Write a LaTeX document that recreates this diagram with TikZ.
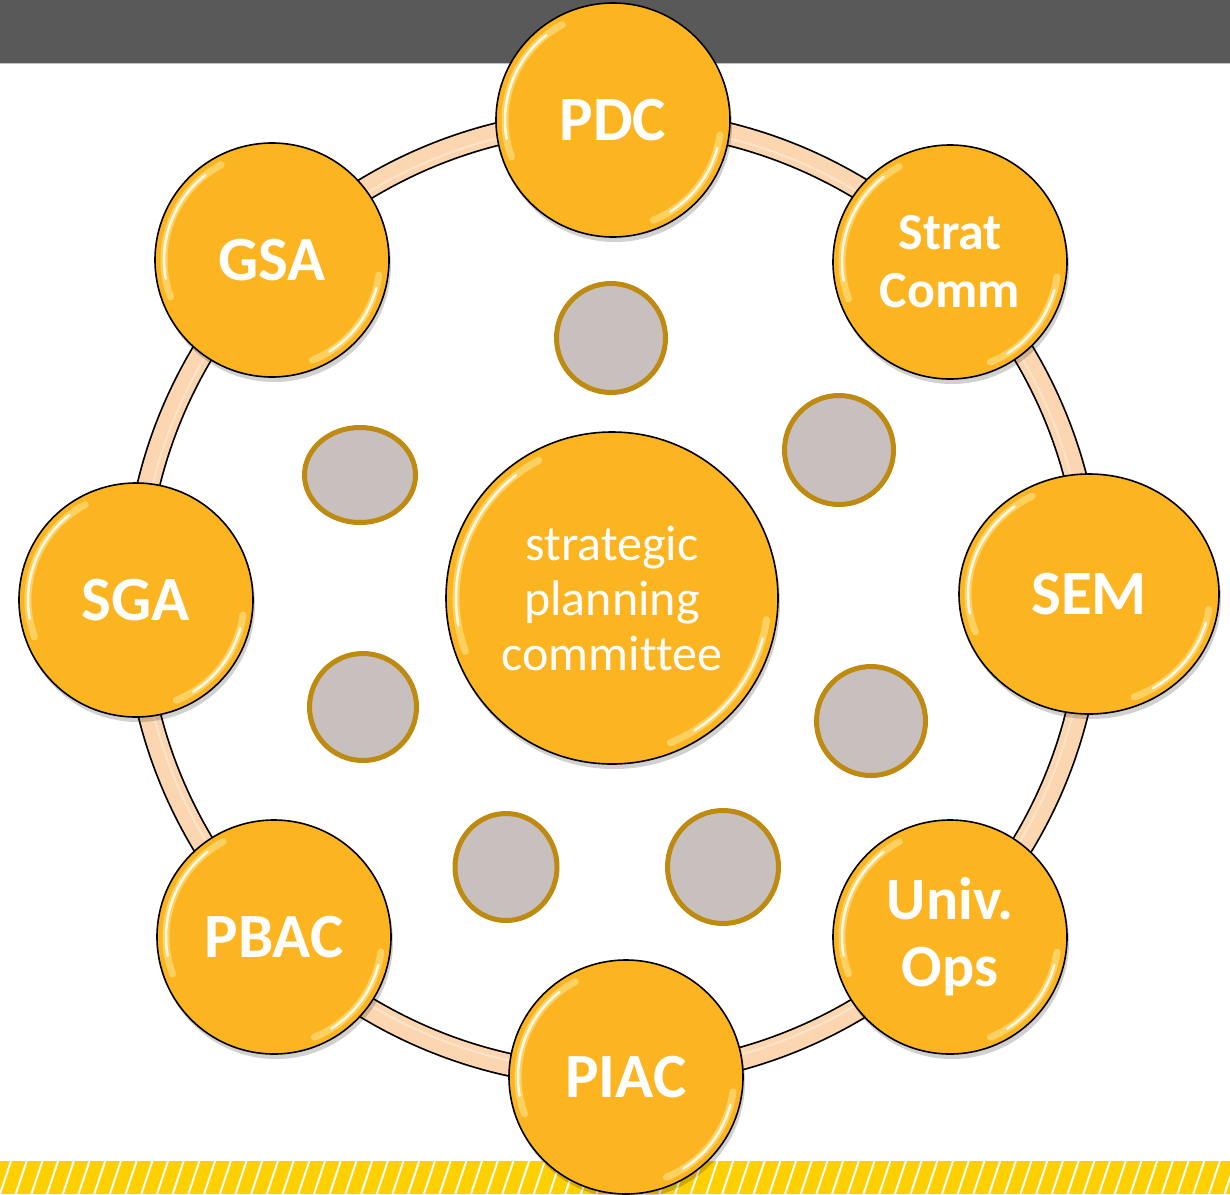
\documentclass[tikz,border=0pt]{standalone}
\usepackage{fontspec}
\setmainfont[Ligatures=NoCommon]{Carlito}
\usetikzlibrary{shapes.geometric,shadows}
\definecolor{topgray}{HTML}{595959}
\definecolor{stripeyellow}{HTML}{FFD000}
\definecolor{peach}{HTML}{FBD6B0}
\definecolor{orangefill}{HTML}{FCB521}
\definecolor{dotgray}{HTML}{C8BFBF}
\definecolor{goldring}{HTML}{BF8A10}
\definecolor{hlcol}{HTML}{FFF4B0}
\tikzset{
  bubble/.style={circle, draw=black, line width=1.6pt, fill=orangefill, text=white,
    font=\bfseries\fontsize{63}{70}\selectfont, minimum size=234pt, inner sep=0pt, align=center,
    drop shadow={shadow xshift=2pt, shadow yshift=-5pt, opacity=0.18, fill=black}},
  dotnode/.style={ellipse, draw=goldring, line width=5pt, fill=dotgray, inner sep=0pt},
  hlwide/.style={draw=hlcol, line width=7pt, opacity=0.45, line cap=round},
  hlthin/.style={draw=white, line width=2.5pt, opacity=0.85, line cap=round},
}
% highlight arcs: #1 node, #2 x radius, #3 y radius
\newcommand\hlarcs[3]{%
  \draw[hlwide] ([shift={(-200:#2 and #3)}]#1.center) arc[start angle=-200, end angle=-118, x radius=#2, y radius=#3];
  \draw[hlthin] ([shift={(-190:#2 and #3)}]#1.center) arc[start angle=-190, end angle=-128, x radius=#2, y radius=#3];
  \draw[hlwide] ([shift={(8:#2 and #3)}]#1.center) arc[start angle=8, end angle=68, x radius=#2, y radius=#3];
  \draw[hlthin] ([shift={(15:#2 and #3)}]#1.center) arc[start angle=15, end angle=58, x radius=#2, y radius=#3];
}
\begin{document}
\begin{tikzpicture}[x=1pt,y=-1pt]
\useasboundingbox (0,0) rectangle (1230,1194);
\fill[white] (0,0) rectangle (1230,1194);
% top bar
\fill[topgray] (0,0) rectangle (1230,63);
\draw[black!25, line width=1.2pt] (0,63.6) -- (1230,63.6);
% bottom striped band
\fill[stripeyellow] (0,1161) rectangle (1230,1194);
\begin{scope}
  \clip (0,1161) rectangle (1230,1194);
  \foreach \i in {-2,...,82} \draw[white, line width=2pt] (\i*15.7,1194) -- ++(11,-33);
\end{scope}
% ring
\draw[black, line width=24pt] (613,598) circle[radius=478];
\draw[peach, line width=20.5pt] (613,598) circle[radius=478];
\draw[white, line width=2pt, opacity=0.35] (613,598) circle[radius=474];
% grey dots
\node[dotnode, minimum width=109pt, minimum height=109pt] (d1) at (611,338) {};
\node[dotnode, minimum width=109pt, minimum height=109pt] (d2) at (839,450) {};
\node[dotnode, minimum width=111pt, minimum height=95pt] (d3) at (360,475) {};
\node[dotnode, minimum width=107pt, minimum height=107pt] (d4) at (363,707) {};
\node[dotnode, minimum width=109pt, minimum height=109pt] (d5) at (871,721) {};
\node[dotnode, minimum width=102pt, minimum height=107pt] (d6) at (506,867) {};
\node[dotnode, minimum width=111pt, minimum height=113pt] (d7) at (723,867) {};
% centre
\node[bubble, minimum size=332pt, font=\fontsize{50}{55}\selectfont] (spc) at (612,598) {strategic\\planning\\committee};
\hlarcs{spc}{156}{156}
% outer bubbles
\node[bubble] (pdc) at (613,120) {PDC};
\hlarcs{pdc}{108}{108}
\node[bubble, font=\bfseries\fontsize{52}{58}\selectfont] (strat) at (950,262) {Strat\\Comm};
\hlarcs{strat}{108}{108}
\node[bubble, ellipse, minimum width=260pt, minimum height=240pt] (sem) at (1089,594) {SEM};
\hlarcs{sem}{121}{111}
\node[bubble, font=\bfseries\fontsize{60}{67}\selectfont] (univ) at (950,937) {Univ.\\Ops};
\hlarcs{univ}{108}{108}
\node[bubble] (piac) at (626,1077) {PIAC};
\hlarcs{piac}{108}{108}
\node[bubble] (pbac) at (274,937) {PBAC};
\hlarcs{pbac}{108}{108}
\node[bubble] (sga) at (136,600) {SGA};
\hlarcs{sga}{108}{108}
\node[bubble] (gsa) at (272,260) {GSA};
\hlarcs{gsa}{108}{108}
\end{tikzpicture}
\end{document}
